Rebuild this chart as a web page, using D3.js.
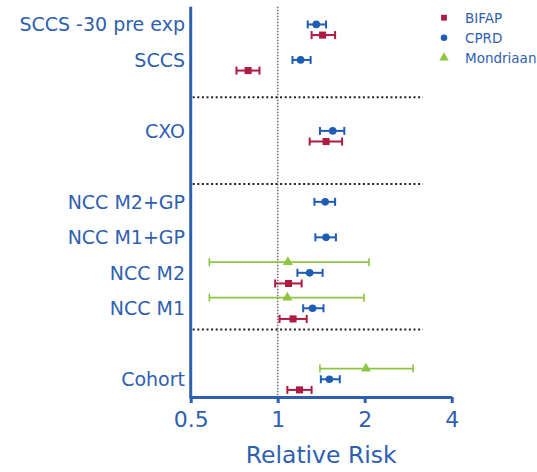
<!DOCTYPE html>
<html>
<head>
<meta charset="utf-8">
<script src="https://cdn.jsdelivr.net/npm/d3@7"></script>
<style>
  body { margin: 0; background: #fff; }
  svg { display: block; font-family: "DejaVu Sans", Verdana, sans-serif; }
</style>
</head>
<body>
<script>
// study designs, bottom to top, and where each sits on the y scale
const categories = ["Cohort", "NCC M1", "NCC M2", "NCC M1+GP", "NCC M2+GP", "CXO", "SCCS", "SCCS -30 pre exp"];
const rowPos = [0, 2, 3, 4, 5, 7, 9, 10];
const separators = [1.4, 5.5, 7.95];

// relative risk estimates with 95% CI (null = not reported)
const bifapEst = [1.19, 1.13, 1.09, null, null, 1.47, 0.79, 1.43];
const bifapLo  = [1.08, 1.015, 0.98, null, null, 1.29, 0.72, 1.31];
const bifapHi  = [1.31, 1.26, 1.21, null, null, 1.67, 0.865, 1.58];

const cprdEst = [1.51, 1.32, 1.29, 1.47, 1.46, 1.55, 1.20, 1.36];
const cprdLo  = [1.41, 1.225, 1.17, 1.35, 1.34, 1.40, 1.125, 1.27];
const cprdHi  = [1.64, 1.44, 1.43, 1.59, 1.58, 1.70, 1.30, 1.47];

const mondEst = [2.02, 1.08, 1.085, null, null, null, null, null];
const mondLo  = [1.40, 0.58, 0.58, null, null, null, null, null];
const mondHi  = [2.94, 1.99, 2.07, null, null, null, null, null];

const xTicks = [0.5, 1, 2, 4];

const series = [
  { name: "BIFAP", est: bifapEst, lo: bifapLo, hi: bifapHi, color: "#ad1c40", shape: d3.symbolSquare, offset: -0.3, size: 50, lw: 2 },
  { name: "CPRD", est: cprdEst, lo: cprdLo, hi: cprdHi, color: "#1f5cb4", shape: d3.symbolCircle, offset: 0, size: 46, lw: 2 },
  { name: "Mondriaan", est: mondEst, lo: mondLo, hi: mondHi, color: "#8dc63f", shape: d3.symbolTriangle, offset: 0.3, size: 44, lw: 1.6 }
];

const blue = "#2f60b0";
const width = 537, height = 472;

const svg = d3.select("body").append("svg")
  .attr("width", width)
  .attr("height", height);

const x = d3.scaleLog().base(2).domain([0.5, 4]).range([190.7, 451.7]);
const y = d3.scaleLinear().domain([-0.5, 10.5]).range([397, 6.7]);

// reference line at RR = 1
svg.append("line")
  .attr("x1", x(1)).attr("x2", x(1))
  .attr("y1", y(10.5)).attr("y2", y(-0.5))
  .attr("stroke", "#707070")
  .attr("stroke-width", 1.6)
  .attr("stroke-dasharray", "1.5,1.5");

// group separators
svg.append("g")
  .selectAll("line")
  .data(separators)
  .join("line")
  .attr("x1", x(0.5) + 2).attr("x2", 423)
  .attr("y1", d => y(d)).attr("y2", d => y(d))
  .attr("stroke", "#222")
  .attr("stroke-width", 2)
  .attr("stroke-dasharray", "2,2.6");

// x axis
const xAxis = svg.append("g")
  .attr("transform", `translate(0,${y(-0.5)})`)
  .call(d3.axisBottom(x).tickValues(xTicks).tickFormat(d3.format("")).tickSize(6).tickSizeOuter(0));
xAxis.select(".domain").attr("stroke", blue).attr("stroke-width", 3);
xAxis.selectAll(".tick line").attr("stroke", blue).attr("stroke-width", 3);
xAxis.selectAll(".tick text")
  .attr("fill", blue)
  .attr("font-size", 22)
  .attr("font-family", "DejaVu Sans, sans-serif")
  .attr("dy", null)
  .attr("y", 30);

// y axis line (no ticks)
svg.append("line")
  .attr("x1", x(0.5)).attr("x2", x(0.5))
  .attr("y1", y(10.5)).attr("y2", y(-0.5) + 1.5)
  .attr("stroke", blue)
  .attr("stroke-width", 3);

// category labels
svg.append("g")
  .selectAll("text")
  .data(categories)
  .join("text")
  .attr("x", 185)
  .attr("y", (d, i) => y(rowPos[i]))
  .attr("dy", "0.36em")
  .attr("text-anchor", "end")
  .attr("fill", blue)
  .attr("font-size", 19)
  .text(d => d);

// error bars and points
series.forEach(s => {
  const rows = categories.map((c, i) => ({ i, est: s.est[i], lo: s.lo[i], hi: s.hi[i] }))
    .filter(d => d.est != null);
  const g = svg.append("g").attr("stroke", s.color).attr("fill", s.color);
  const yy = d => y(rowPos[d.i] + s.offset);

  g.selectAll("line.bar").data(rows).join("line")
    .attr("class", "bar")
    .attr("x1", d => x(d.lo)).attr("x2", d => x(d.hi))
    .attr("y1", yy).attr("y2", yy)
    .attr("stroke-width", s.lw);
  g.selectAll("line.capl").data(rows).join("line")
    .attr("class", "capl")
    .attr("x1", d => x(d.lo)).attr("x2", d => x(d.lo))
    .attr("y1", d => yy(d) - 4).attr("y2", d => yy(d) + 4)
    .attr("stroke-width", s.lw);
  g.selectAll("line.caph").data(rows).join("line")
    .attr("class", "caph")
    .attr("x1", d => x(d.hi)).attr("x2", d => x(d.hi))
    .attr("y1", d => yy(d) - 4).attr("y2", d => yy(d) + 4)
    .attr("stroke-width", s.lw);
  g.selectAll("path").data(rows).join("path")
    .attr("stroke", "none")
    .attr("d", d3.symbol().type(s.shape).size(s.size))
    .attr("transform", d => `translate(${x(d.est)},${yy(d)})`);
});

// x axis title
svg.append("text")
  .attr("x", (x(0.5) + x(4)) / 2)
  .attr("y", 463.3)
  .attr("text-anchor", "middle")
  .attr("fill", blue)
  .attr("font-size", 23.5)
  .text("Relative Risk");

// legend
const legend = svg.append("g");
series.forEach((s, k) => {
  const cy = 17.7 + k * 20;
  legend.append("path")
    .attr("d", d3.symbol().type(s.shape).size(k === 2 ? 38 : 34))
    .attr("transform", `translate(444,${cy})`)
    .attr("fill", s.color);
  legend.append("text")
    .attr("x", 465)
    .attr("y", cy + 5)
    .attr("fill", blue)
    .attr("font-size", 13.5)
    .text(s.name);
});
</script>
</body>
</html>
